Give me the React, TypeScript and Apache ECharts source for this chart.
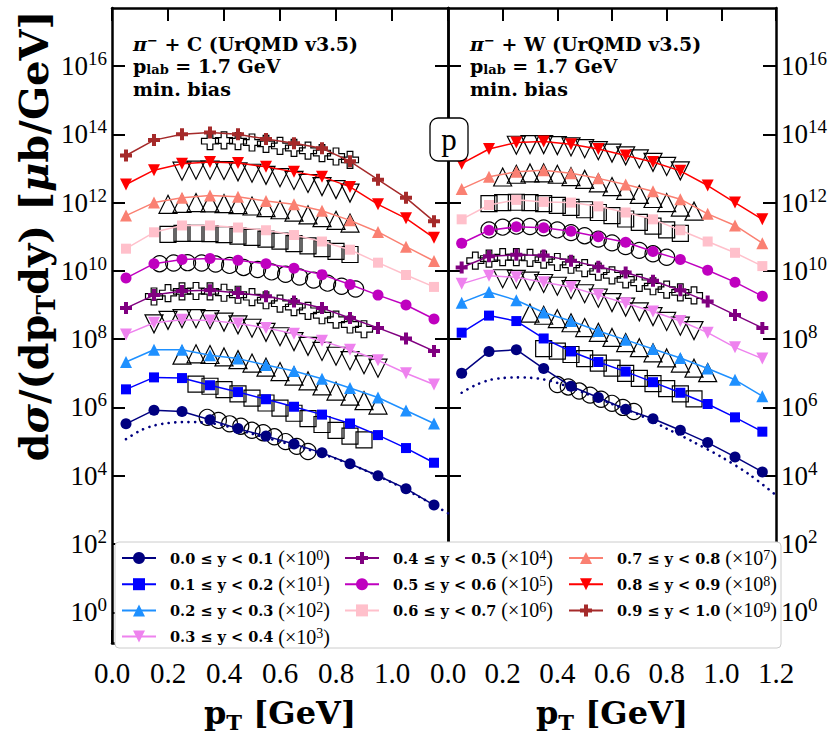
import React, { useEffect, useRef } from "react";
import * as echarts from "echarts";

// ---------- axes ----------
const Y_TICK_EXP = [0, 2, 4, 6, 8, 10, 12, 14, 16];
const X_TICKS = [0, 0.2, 0.4, 0.6, 0.8, 1.0, 1.2];
const X_LABELS_LEFT = [0, 0.2, 0.4, 0.6, 0.8, 1.0];
const X_LABELS_RIGHT = [0, 0.2, 0.4, 0.6, 0.8, 1.0, 1.2];

// ---------- rapidity bins ----------
const BIN_LABELS = [
  "0.0 ≤ y < 0.1", "0.1 ≤ y < 0.2", "0.2 ≤ y < 0.3", "0.3 ≤ y < 0.4", "0.4 ≤ y < 0.5",
  "0.5 ≤ y < 0.6", "0.6 ≤ y < 0.7", "0.7 ≤ y < 0.8", "0.8 ≤ y < 0.9", "0.9 ≤ y < 1.0",
];
const BIN_SCALE_EXP = [0, 1, 2, 3, 4, 5, 6, 7, 8, 9];

// ---------- model pT grid ----------
const PT_MODEL = [0.05, 0.15, 0.25, 0.35, 0.45, 0.55, 0.65, 0.75, 0.85, 0.95, 1.05, 1.15];

// ---------- pi- + C, UrQMD (log10 of d sigma/(dpT dy) x scale) ----------
const C_Y0 = [5.52, 5.92, 5.88, 5.64, 5.38, 5.16, 4.93, 4.67, 4.35, 4.0, 3.62, 3.14];
const C_Y1 = [6.53, 6.88, 6.86, 6.65, 6.45, 6.24, 6.02, 5.79, 5.53, 5.19, 4.81, 4.38];
const C_Y2 = [7.33, 7.69, 7.69, 7.53, 7.43, 7.24, 7.07, 6.84, 6.57, 6.29, 5.91, 5.53];
const C_Y3 = [8.14, 8.48, 8.57, 8.55, 8.46, 8.33, 8.16, 7.95, 7.69, 7.38, 7.0, 6.67];
const C_Y4 = [8.91, 9.29, 9.41, 9.43, 9.35, 9.26, 9.1, 8.91, 8.62, 8.33, 8.02, 7.65];
const C_Y5 = [9.79, 10.21, 10.33, 10.36, 10.31, 10.21, 10.08, 9.89, 9.6, 9.29, 9.0, 8.59];
const C_Y6 = [10.65, 11.13, 11.33, 11.33, 11.27, 11.19, 11.05, 10.86, 10.62, 10.24, 9.88, 9.53];
const C_Y7 = [11.62, 12.0, 12.14, 12.21, 12.17, 12.05, 11.95, 11.76, 11.48, 11.14, 10.71, 10.29];
const C_Y8 = [12.53, 12.95, 13.14, 13.19, 13.16, 13.05, 12.9, 12.76, 12.46, 11.95, 11.54, 10.97];
const C_Y9 = [13.38, 13.83, 14.0, 14.05, 14.0, 13.86, 13.74, 13.59, 13.21, 12.67, 12.14, 11.45];

// ---------- pi- + W, UrQMD ----------
const W_Y0 = [7.0, 7.64, 7.69, 7.14, 6.62, 6.29, 5.95, 5.67, 5.33, 4.97, 4.55, 4.11];
const W_Y1 = [8.19, 8.69, 8.53, 8.02, 7.64, 7.33, 7.05, 6.74, 6.43, 6.1, 5.71, 5.29];
const W_Y2 = [9.07, 9.38, 9.14, 8.78, 8.53, 8.24, 7.98, 7.71, 7.45, 7.14, 6.81, 6.33];
const W_Y3 = [9.62, 9.86, 9.81, 9.67, 9.53, 9.29, 9.05, 8.81, 8.53, 8.19, 7.76, 7.43];
const W_Y4 = [10.1, 10.43, 10.47, 10.45, 10.3, 10.12, 9.95, 9.71, 9.43, 9.1, 8.71, 8.33];
const W_Y5 = [10.81, 11.19, 11.29, 11.26, 11.16, 11.0, 10.84, 10.57, 10.33, 10.02, 9.67, 9.26];
const W_Y6 = [11.51, 11.93, 12.08, 12.02, 12.0, 11.89, 11.71, 11.51, 11.19, 10.86, 10.53, 10.14];
const W_Y7 = [12.4, 12.76, 12.9, 12.95, 12.86, 12.71, 12.53, 12.33, 12.1, 11.67, 11.33, 10.81];
const W_Y8 = [13.14, 13.57, 13.76, 13.79, 13.71, 13.57, 13.38, 13.19, 12.93, 12.5, 12.0, 11.51];

// ---------- measured data (open symbols), pi- + C ----------
const C_D0_PT = [0.34, 0.38, 0.42, 0.46, 0.5, 0.54, 0.58, 0.62, 0.66, 0.7];
const C_D0 = [5.71, 5.62, 5.52, 5.45, 5.33, 5.26, 5.14, 5.0, 4.86, 4.71];
const C_D1_PT = [0.3, 0.35, 0.4, 0.45, 0.5, 0.55, 0.6, 0.65, 0.7, 0.75, 0.8, 0.85, 0.9];
const C_D1 = [6.68, 6.62, 6.52, 6.4, 6.27, 6.13, 5.98, 5.83, 5.67, 5.5, 5.33, 5.16, 5.05];
const C_D2_PT = [0.25, 0.3, 0.35, 0.4, 0.45, 0.5, 0.55, 0.6, 0.65, 0.7, 0.75, 0.8, 0.85, 0.9, 0.95];
const C_D2 = [7.53, 7.57, 7.55, 7.48, 7.4, 7.3, 7.18, 7.05, 6.92, 6.78, 6.63, 6.48, 6.33, 6.2, 6.07];
const C_D3_PT = [0.15, 0.2, 0.25, 0.3, 0.35, 0.4, 0.45, 0.5, 0.55, 0.6, 0.65, 0.7, 0.75, 0.8, 0.85, 0.9, 0.95];
const C_D3 = [8.45, 8.55, 8.6, 8.6, 8.57, 8.5, 8.42, 8.32, 8.2, 8.07, 7.93, 7.79, 7.64, 7.5, 7.37, 7.25, 7.15];
const C_D4_PT = [0.15, 0.2, 0.25, 0.3, 0.35, 0.4, 0.45, 0.5, 0.55, 0.6, 0.65, 0.7, 0.75, 0.8, 0.85, 0.9];
const C_D4 = [9.25, 9.35, 9.4, 9.41, 9.4, 9.36, 9.3, 9.23, 9.14, 9.04, 8.94, 8.83, 8.7, 8.57, 8.43, 8.29];
const C_D5_PT = [0.17, 0.22, 0.27, 0.32, 0.37, 0.42, 0.47, 0.52, 0.57, 0.62, 0.67, 0.72, 0.77, 0.82, 0.87];
const C_D5 = [10.21, 10.23, 10.24, 10.23, 10.2, 10.16, 10.1, 10.04, 9.97, 9.9, 9.82, 9.73, 9.64, 9.55, 9.47];
const C_D6_PT = [0.2, 0.25, 0.3, 0.35, 0.4, 0.45, 0.5, 0.55, 0.6, 0.65, 0.7, 0.75, 0.8, 0.85];
const C_D6 = [11.07, 11.1, 11.1, 11.09, 11.06, 11.02, 10.98, 10.93, 10.87, 10.8, 10.73, 10.65, 10.57, 10.48];
const C_D7_PT = [0.2, 0.25, 0.3, 0.35, 0.4, 0.45, 0.5, 0.55, 0.6, 0.65, 0.7, 0.75, 0.8, 0.85];
const C_D7 = [11.95, 11.98, 12.0, 11.99, 11.97, 11.94, 11.9, 11.85, 11.79, 11.72, 11.64, 11.56, 11.48, 11.4];
const C_D8_PT = [0.25, 0.3, 0.35, 0.4, 0.45, 0.5, 0.55, 0.6, 0.65, 0.7, 0.75, 0.8, 0.85];
const C_D8 = [12.92, 12.95, 12.95, 12.94, 12.9, 12.86, 12.8, 12.73, 12.65, 12.56, 12.47, 12.38, 12.28];
const C_D9_PT = [0.35, 0.4, 0.45, 0.5, 0.55, 0.6, 0.65, 0.7, 0.75, 0.8, 0.85];
const C_D9 = [13.8, 13.82, 13.8, 13.76, 13.72, 13.66, 13.6, 13.52, 13.45, 13.35, 13.25];

// ---------- measured data (open symbols), pi- + W ----------
const W_D0_PT = [0.4, 0.44, 0.48, 0.52, 0.56, 0.6, 0.64, 0.68];
const W_D0 = [6.67, 6.6, 6.48, 6.36, 6.24, 6.12, 6.0, 5.88];
const W_D1_PT = [0.35, 0.4, 0.45, 0.5, 0.55, 0.6, 0.65, 0.7, 0.75, 0.8, 0.85, 0.9];
const W_D1 = [7.72, 7.65, 7.55, 7.43, 7.3, 7.15, 7.0, 6.85, 6.7, 6.55, 6.4, 6.25];
const W_D2_PT = [0.3, 0.35, 0.4, 0.45, 0.5, 0.55, 0.6, 0.65, 0.7, 0.75, 0.8, 0.85, 0.9, 0.95];
const W_D2 = [8.76, 8.7, 8.6, 8.48, 8.34, 8.2, 8.05, 7.9, 7.75, 7.6, 7.45, 7.3, 7.15, 7.02];
const W_D3_PT = [0.2, 0.25, 0.3, 0.35, 0.4, 0.45, 0.5, 0.55, 0.6, 0.65, 0.7, 0.75, 0.8, 0.85, 0.9];
const W_D3 = [9.77, 9.75, 9.7, 9.63, 9.55, 9.45, 9.33, 9.2, 9.07, 8.94, 8.8, 8.66, 8.52, 8.38, 8.25];
const W_D4_PT = [0.1, 0.15, 0.2, 0.25, 0.3, 0.35, 0.4, 0.45, 0.5, 0.55, 0.6, 0.65, 0.7, 0.75, 0.8, 0.85, 0.9];
const W_D4 = [10.3, 10.36, 10.4, 10.4, 10.38, 10.33, 10.26, 10.18, 10.08, 9.98, 9.87, 9.75, 9.65, 9.55, 9.45, 9.37, 9.28];
const W_D5_PT = [0.15, 0.2, 0.25, 0.3, 0.35, 0.4, 0.45, 0.5, 0.55, 0.6, 0.65, 0.7, 0.75, 0.8];
const W_D5 = [11.2, 11.28, 11.31, 11.3, 11.26, 11.2, 11.12, 11.03, 10.93, 10.82, 10.71, 10.6, 10.5, 10.4];
const W_D6_PT = [0.15, 0.2, 0.25, 0.3, 0.35, 0.4, 0.45, 0.5, 0.55, 0.6, 0.65, 0.7, 0.75, 0.8, 0.85];
const W_D6 = [11.97, 12.0, 12.01, 12.0, 11.97, 11.92, 11.86, 11.79, 11.71, 11.62, 11.52, 11.42, 11.31, 11.2, 11.1];
const W_D7_PT = [0.2, 0.25, 0.3, 0.35, 0.4, 0.45, 0.5, 0.55, 0.6, 0.65, 0.7, 0.75, 0.8, 0.85, 0.9];
const W_D7 = [12.75, 12.83, 12.87, 12.87, 12.83, 12.76, 12.68, 12.58, 12.47, 12.36, 12.24, 12.12, 12.0, 11.87, 11.75];
const W_D8_PT = [0.25, 0.3, 0.35, 0.4, 0.45, 0.5, 0.55, 0.6, 0.65, 0.7, 0.75, 0.8, 0.85];
const W_D8 = [13.68, 13.7, 13.7, 13.67, 13.63, 13.58, 13.52, 13.45, 13.37, 13.28, 13.18, 13.06, 12.93];

// ---------- dotted reference curves (0.0 <= y < 0.1) ----------
const FIT_PT = [0.05, 0.1, 0.15, 0.2, 0.25, 0.3, 0.35, 0.4, 0.5, 0.6, 0.7, 0.8, 0.9, 1.0, 1.1, 1.2];
const C_FIT = [5.07, 5.32, 5.47, 5.54, 5.57, 5.57, 5.54, 5.47, 5.23, 5.0, 4.77, 4.5, 4.17, 3.8, 3.37, 2.9];
const W_FIT = [6.43, 6.65, 6.8, 6.86, 6.88, 6.87, 6.82, 6.72, 6.42, 6.1, 5.78, 5.38, 4.98, 4.55, 4.05, 3.43];

// ---------- styles ----------
const COLORS = ["#000080", "#0000FF", "#1E90FF", "#EE82EE", "#800080", "#BF00BF", "#FFC0CB", "#FA8072", "#FF0000", "#A52A2A"];
const PLUS = "path://M4,0H8V4H12V8H8V12H4V8H0V4H4Z";
const TRI_DOWN = "path://M0,0H12L6,10.4Z";
const TRI_UP = "path://M6,0L12,10.4H0Z";
const SYMBOLS = ["circle", "rect", TRI_UP, TRI_DOWN, PLUS, "circle", "rect", TRI_UP, TRI_DOWN, PLUS];
const SIZES = [11, 10, 12, 12, 12, 11, 10, 12, 12, 12];
const OPEN_SIZES = [16, 16, 18, 18, 17, 16, 16, 18, 18, 17];

const FONT_REG = "'Liberation Serif', 'DejaVu Serif', serif";
const FONT_BOLD = "'DejaVu Serif', 'Liberation Serif', serif";

const zip = (xs: number[], ys: number[]) => xs.map((x, i) => [x, ys[i]]);

const C_MODEL = [C_Y0, C_Y1, C_Y2, C_Y3, C_Y4, C_Y5, C_Y6, C_Y7, C_Y8, C_Y9];
const W_MODEL = [W_Y0, W_Y1, W_Y2, W_Y3, W_Y4, W_Y5, W_Y6, W_Y7, W_Y8];
const C_DATA = [
  [C_D0_PT, C_D0], [C_D1_PT, C_D1], [C_D2_PT, C_D2], [C_D3_PT, C_D3], [C_D4_PT, C_D4],
  [C_D5_PT, C_D5], [C_D6_PT, C_D6], [C_D7_PT, C_D7], [C_D8_PT, C_D8], [C_D9_PT, C_D9],
];
const W_DATA = [
  [W_D0_PT, W_D0], [W_D1_PT, W_D1], [W_D2_PT, W_D2], [W_D3_PT, W_D3], [W_D4_PT, W_D4],
  [W_D5_PT, W_D5], [W_D6_PT, W_D6], [W_D7_PT, W_D7], [W_D8_PT, W_D8],
];

function buildOption() {
  const series: any[] = [];
  const addPanel = (panel: number, model: number[][], data: number[][][], fit: number[], tag: string) => {
    const xi = panel * 2;
    const yi = panel * 2;
    data.forEach(([pt, v], i) => {
      series.push({
        type: "scatter", name: `${tag} data ${BIN_LABELS[i]}`, xAxisIndex: xi, yAxisIndex: yi,
        data: zip(pt, v), symbol: SYMBOLS[i], symbolSize: OPEN_SIZES[i], z: 3, silent: true,
        itemStyle: { color: "rgba(0,0,0,0)", borderColor: "#000", borderWidth: 1.2, opacity: 1 },
      });
    });
    series.push({
      type: "line", name: `${tag} fit`, xAxisIndex: xi, yAxisIndex: yi, data: zip(FIT_PT, fit),
      smooth: 0.3, showSymbol: false, symbol: "none", z: 4, silent: true,
      lineStyle: { color: "#000080", width: 2.6, type: [0.1, 6.5], cap: "round" },
    });
    model.forEach((v, i) => {
      series.push({
        type: "line", name: BIN_LABELS[i], xAxisIndex: xi, yAxisIndex: yi, data: zip(PT_MODEL, v),
        symbol: SYMBOLS[i], symbolSize: SIZES[i], showSymbol: true, z: 5, silent: true,
        itemStyle: { color: COLORS[i] }, lineStyle: { color: COLORS[i], width: 1.5 },
      });
    });
  };
  addPanel(0, C_MODEL, C_DATA, C_FIT, "C");
  addPanel(1, W_MODEL, W_DATA, W_FIT, "W");

  const yLabelRich = {
    b: { fontSize: 27, fontFamily: FONT_REG, color: "#000", lineHeight: 34 },
    s: { fontSize: 19, fontFamily: FONT_REG, color: "#000", lineHeight: 19, verticalAlign: "top" },
  };
  const yFmt = (v: number) => `{b|10}{s|${Math.round(v)}}`;
  const tick = { inside: true, length: 13, lineStyle: { color: "#000", width: 2 } };
  const axLine = { show: true, onZero: false, lineStyle: { color: "#000", width: 2.5 } };

  const titleRich = (fs: number) => ({
    b: { fontSize: fs, fontFamily: FONT_BOLD, fontWeight: "bold", color: "#000", fill: "#000", lineHeight: fs * 1.25 },
    bi: { fontSize: fs, fontFamily: FONT_BOLD, fontWeight: "bold", fontStyle: "italic", color: "#000", fill: "#000", lineHeight: fs * 1.25 },
    sub: { fontSize: fs * 0.66, fontFamily: FONT_BOLD, fontWeight: "bold", color: "#000", fill: "#000", lineHeight: fs * 0.95, verticalAlign: "bottom" },
  });

  const xAxisBase = (grid: number, labels: number[]) => ({
    type: "value", gridIndex: grid, min: 0, max: 1.2, position: "bottom",
    splitLine: { show: false }, axisLine: axLine,
    axisTick: { ...tick, customValues: X_TICKS },
    axisLabel: {
      customValues: labels, fontSize: 29, fontFamily: FONT_REG, color: "#000", margin: 15,
      formatter: (v: number) => v.toFixed(1),
    },
    name: "{b|p}{sub|T}{b| [GeV]}",
    nameLocation: "middle", nameGap: 50,
    nameTextStyle: { rich: titleRich(32) },
  });
  const xAxisTop = (grid: number) => ({
    type: "value", gridIndex: grid, min: 0, max: 1.2, position: "top",
    splitLine: { show: false }, axisLine: axLine,
    axisTick: { ...tick, customValues: X_TICKS }, axisLabel: { show: false },
  });
  const yAxis = (grid: number, pos: string, showLabel: boolean) => ({
    type: "value", gridIndex: grid, min: -0.9, max: 17.7, position: pos,
    splitLine: { show: false }, axisLine: axLine,
    axisTick: { ...tick, customValues: Y_TICK_EXP },
    axisLabel: showLabel
      ? { customValues: Y_TICK_EXP, formatter: yFmt, rich: yLabelRich, margin: 5 }
      : { show: false },
  });

  const legendFmt = (name: string) => {
    const i = BIN_LABELS.indexOf(name);
    return `{b|${name}}{r| (×10}{s|${BIN_SCALE_EXP[i]}}{r|)}`;
  };
  const legendText = {
    fontSize: 16, fontFamily: FONT_REG, color: "#000", lineHeight: 20,
    rich: {
      b: { fontSize: 14.5, fontFamily: FONT_BOLD, fontWeight: "bold", color: "#000", lineHeight: 20, padding: [0, 0, 0, 9] },
      r: { fontSize: 20, fontFamily: FONT_REG, color: "#000", lineHeight: 20 },
      s: { fontSize: 14, fontFamily: FONT_REG, color: "#000", lineHeight: 12, verticalAlign: "top" },
    },
  };
  const legendCol = (left: number, names: string[]) => ({
    orient: "vertical", left, top: 548, itemGap: 6.2, itemWidth: 34, itemHeight: 15, padding: 0,
    selectedMode: false, data: names, formatter: legendFmt, textStyle: legendText, z: 20,
  });

  const annoRich = {
    b: { fontSize: 19, fontFamily: FONT_BOLD, fontWeight: "bold", fill: "#000", lineHeight: 20 },
    bi: { fontSize: 19, fontFamily: FONT_BOLD, fontWeight: "bold", fontStyle: "italic", fill: "#000", lineHeight: 20 },
    sup: { fontSize: 13, fontFamily: FONT_BOLD, fontWeight: "bold", fill: "#000", lineHeight: 11, verticalAlign: "top" },
    sub: { fontSize: 13, fontFamily: FONT_BOLD, fontWeight: "bold", fill: "#000", lineHeight: 11, verticalAlign: "bottom" },
  };
  const anno = (x: number, target: string) => [
    { type: "text", x, y: 44, z: 10, style: { text: `{bi|π}{sup|−}{b| + ${target} (UrQMD v3.5)}`, rich: annoRich, verticalAlign: "middle", align: "left" } },
    { type: "text", x, y: 66, z: 10, style: { text: "{b|p}{sub|lab}{b| = 1.7 GeV}", rich: annoRich, verticalAlign: "middle", align: "left" } },
    { type: "text", x, y: 89, z: 10, style: { text: "{b|min. bias}", rich: annoRich, verticalAlign: "middle", align: "left" } },
  ];

  return {
    animation: false,
    backgroundColor: "#fff",
    grid: [
      { left: 112, top: 8, width: 336, height: 650 },
      { left: 448, top: 8, width: 336, height: 650 },
    ],
    xAxis: [
      xAxisBase(0, X_LABELS_LEFT), xAxisTop(0),
      xAxisBase(1, X_LABELS_RIGHT), xAxisTop(1),
    ],
    yAxis: [
      yAxis(0, "left", true),
      yAxis(0, "right", false),
      yAxis(1, "left", false),
      yAxis(1, "right", true),
    ],
    legend: [
      legendCol(121, BIN_LABELS.slice(0, 4)),
      legendCol(344, BIN_LABELS.slice(4, 7)),
      legendCol(568, BIN_LABELS.slice(7, 10)),
    ],
    graphic: [
      {
        type: "text", z: 10, x: 33, y: 236, rotation: Math.PI / 2,
        style: {
          text: "{b|d}{bi|σ}{b|/(dp}{sub|T}{b|dy) [}{bi|μ}{b|b/GeV]}",
          rich: titleRich(40), align: "center", verticalAlign: "middle",
        },
      },
      ...anno(133, "C"),
      ...anno(470, "W"),
      {
        type: "rect", z: 10, shape: { x: 430, y: 118, width: 38, height: 43, r: 8 },
        style: { fill: "#fff", stroke: "#000", lineWidth: 1.3 },
      },
      {
        type: "text", z: 11, x: 449, y: 139,
        style: { text: "p", fontSize: 31, fontFamily: FONT_REG, fill: "#000", align: "center", verticalAlign: "middle" },
      },
      {
        type: "rect", z: 10, shape: { x: 115, y: 542, width: 666, height: 106, r: 4 },
        style: { fill: "#fff", stroke: "#cccccc", lineWidth: 1 },
      },
    ],
    series,
  };
}

export default function App() {
  const ref = useRef<HTMLDivElement>(null);
  useEffect(() => {
    if (!ref.current) return;
    const chart = echarts.init(ref.current, null, { renderer: "svg" });
    chart.setOption(buildOption() as any);
    return () => chart.dispose();
  }, []);
  return <div ref={ref} style={{ position: "fixed", left: 0, top: 0, width: 830, height: 738, background: "#fff" }} />;
}
